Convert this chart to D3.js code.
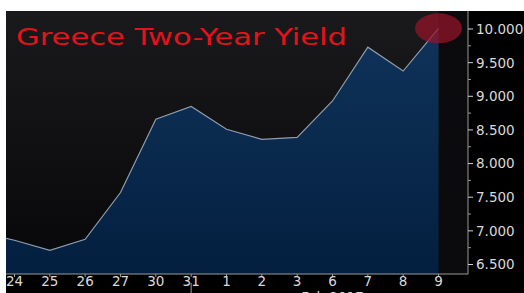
<!DOCTYPE html>
<html>
<head>
<meta charset="utf-8">
<script src="https://cdn.jsdelivr.net/npm/d3@7"></script>
<style>
  html, body { margin: 0; padding: 0; background: #fff; }
  svg { display: block; }
</style>
</head>
<body>
<div id="chart"></div>
<script>
// dữ liệu
const days = ["24", "25", "26", "27", "30", "31", "1", "2", "3", "6", "7", "8", "9"];
const yields = [6.86, 6.71, 6.875, 7.57, 8.66, 8.85, 8.51, 8.36, 8.39, 8.93, 9.73, 9.375, 10.01];
const yTicks = [6.5, 7.0, 7.5, 8.0, 8.5, 9.0, 9.5, 10.0];
const monthLabel = "Feb 2017";
const title = "Greece Two-Year Yield";

const W = 524, H = 293;
const plot = { left: 6, right: 468, top: 11, bottom: 274 };
const font = "DejaVu Sans, Verdana, sans-serif";

const svg = d3.select("#chart").append("svg")
  .attr("width", W).attr("height", H);

const defs = svg.append("defs");
const bg = defs.append("linearGradient").attr("id", "bg")
  .attr("x1", 0).attr("y1", 0).attr("x2", 0).attr("y2", 1);
bg.append("stop").attr("offset", "0%").attr("stop-color", "#1a1a1d");
bg.append("stop").attr("offset", "100%").attr("stop-color", "#070709");

const fillGrad = defs.append("linearGradient").attr("id", "fillGrad")
  .attr("x1", 0).attr("y1", 0).attr("x2", 0).attr("y2", 1);
fillGrad.append("stop").attr("offset", "0%").attr("stop-color", "#10335a");
fillGrad.append("stop").attr("offset", "100%").attr("stop-color", "#031f3f");

defs.append("clipPath").attr("id", "clip").append("rect")
  .attr("x", plot.left).attr("y", plot.top)
  .attr("width", plot.right - plot.left).attr("height", plot.bottom - plot.top);

// nền đen
svg.append("rect").attr("x", plot.left).attr("y", plot.top)
  .attr("width", W - plot.left).attr("height", H - plot.top)
  .attr("fill", "#000");
svg.append("rect").attr("x", plot.left).attr("y", plot.top)
  .attr("width", plot.right - plot.left).attr("height", plot.bottom - plot.top)
  .attr("fill", "url(#bg)");

// thang đo
const x = d3.scalePoint().domain(days).range([14.5, 438.5]);
const y = d3.scaleLinear().domain([6.5, 10.0]).range([264.5, 29]);

// vùng tối sau điểm cuối
svg.append("rect").attr("x", x("9")).attr("y", plot.top)
  .attr("width", plot.right - x("9")).attr("height", plot.bottom - plot.top)
  .attr("fill", "#0b0b0e");

const pts = days.map((d, i) => [x(d), y(yields[i])]);
pts.unshift([plot.left, y(yields[0]) - 2]);

const g = svg.append("g").attr("clip-path", "url(#clip)");

g.append("path")
  .datum(pts)
  .attr("fill", "url(#fillGrad)")
  .attr("d", d3.area().x(d => d[0]).y0(plot.bottom).y1(d => d[1]));

g.append("path")
  .datum(pts)
  .attr("fill", "none")
  .attr("stroke", "#8f9cab")
  .attr("stroke-width", 1.2)
  .attr("d", d3.line().x(d => d[0]).y(d => d[1]));

// vòng tròn đỏ đánh dấu điểm cuối
svg.append("ellipse")
  .attr("cx", x("9")).attr("cy", y(yields[yields.length - 1]))
  .attr("rx", 23.5).attr("ry", 15)
  .attr("fill", "rgba(150, 20, 40, 0.72)");

// trục phải
const yAxis = svg.append("g")
  .attr("transform", `translate(${plot.right},0)`);
yAxis.append("line")
  .attr("x1", 0).attr("x2", 0).attr("y1", plot.top).attr("y2", plot.bottom)
  .attr("stroke", "#9a9a9a");
yAxis.selectAll(".minor").data(yTicks.slice(0, -1))
  .join("line")
  .attr("x1", 0).attr("x2", 3)
  .attr("y1", d => y(d + 0.25)).attr("y2", d => y(d + 0.25))
  .attr("stroke", "#9a9a9a");
yAxis.selectAll(".major").data(yTicks)
  .join("line")
  .attr("x1", 0).attr("x2", 5)
  .attr("y1", d => y(d)).attr("y2", d => y(d))
  .attr("stroke", "#d0d0d0");
yAxis.selectAll("text").data(yTicks)
  .join("text")
  .attr("x", 8).attr("y", d => y(d))
  .attr("dy", "0.36em")
  .attr("fill", "#dadada")
  .style("font-family", font)
  .style("font-size", "13.5px")
  .text(d => d3.format(".3f")(d));

// trục dưới
const xAxis = svg.append("g");
xAxis.append("line")
  .attr("x1", plot.left).attr("x2", plot.right)
  .attr("y1", plot.bottom).attr("y2", plot.bottom)
  .attr("stroke", "#9a9a9a");
xAxis.selectAll(".tick").data(days)
  .join("line")
  .attr("x1", d => x(d)).attr("x2", d => x(d))
  .attr("y1", plot.bottom).attr("y2", plot.bottom + 3)
  .attr("stroke", "#9a9a9a");
xAxis.selectAll("text").data(days)
  .join("text")
  .attr("x", d => x(d)).attr("y", 286)
  .attr("text-anchor", "middle")
  .attr("fill", "#dadada")
  .style("font-family", font)
  .style("font-size", "13.5px")
  .text(d => d);

// ranh giới tháng
xAxis.append("line")
  .attr("x1", x("31")).attr("x2", x("31"))
  .attr("y1", 283).attr("y2", H)
  .attr("stroke", "#9a9a9a");
xAxis.append("text")
  .attr("x", (x("3") + x("7")) / 2).attr("y", 302)
  .attr("text-anchor", "middle")
  .attr("fill", "#dadada")
  .style("font-family", font)
  .style("font-size", "13.5px")
  .text(monthLabel);

// tiêu đề
svg.append("text")
  .attr("x", 16).attr("y", 45)
  .attr("textLength", 331)
  .attr("lengthAdjust", "spacingAndGlyphs")
  .attr("fill", "#e4121a")
  .style("font-family", font)
  .style("font-size", "23px")
  .text(title);
</script>
</body>
</html>
